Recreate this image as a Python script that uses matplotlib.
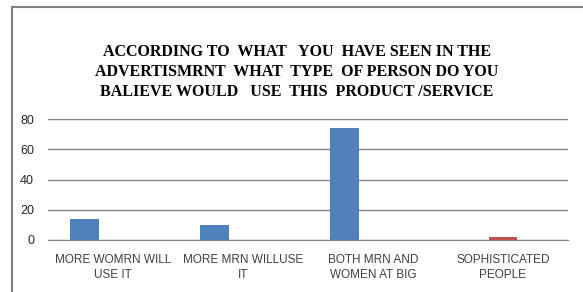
import numpy as np
import matplotlib.pyplot as plt
from matplotlib.patches import Rectangle

# categories and the three series (third one is all zero)
categories = ["MORE WOMRN WILL\nUSE IT", "MORE MRN WILLUSE\nIT",
              "BOTH MRN AND\nWOMEN AT BIG", "SOPHISTICATED\nPEOPLE"]
series1 = [14, 10, 74, 0]
series2 = [0, 0, 0, 2]
series3 = [0, 0, 0, 0]
yticks = [0, 20, 40, 60, 80]

title = ("ACCORDING TO  WHAT   YOU  HAVE SEEN IN THE\n"
         "ADVERTISMRNT  WHAT  TYPE  OF PERSON DO YOU\n"
         "BALIEVE WOULD   USE  THIS  PRODUCT /SERVICE")

fig = plt.figure(figsize=(5.83, 2.92), dpi=100)
fig.patches.append(Rectangle((12 / 583, -0.1), 1.1, 1.1 - 7 / 292, transform=fig.transFigure,
                             fill=False, edgecolor="#7f7f7f", linewidth=1.5))

ax = fig.add_axes([48 / 583, 1 - 240 / 292, 520 / 583, 121 / 292])
x = np.arange(len(categories))
w = 0.223
ax.bar(x - w, series1, w, color="#4F81BD")
ax.bar(x, series2, w, color="#C0504D")
ax.bar(x + w, series3, w, color="#9BBB59")

ax.set_xlim(-0.5, len(categories) - 0.5)
ax.set_ylim(0, 80)
ax.set_yticks(yticks)
ax.yaxis.grid(True, color="#868686", linewidth=1)
ax.set_axisbelow(True)
for s in ["left", "right", "top"]:
    ax.spines[s].set_visible(False)
ax.spines["bottom"].set_color("#868686")
ax.tick_params(length=0)
ax.tick_params(axis="y", pad=10, labelsize=9, labelcolor="#262626")
ax.set_xticks(x)
ax.set_xticklabels(categories, fontsize=8.5, color="#404040", linespacing=1.35)
ax.tick_params(axis="x", pad=10)
for t in ax.get_xticklabels() + ax.get_yticklabels():
    t.set_family("Liberation Sans")

fig.text(297 / 583, 1 - 72 / 292, title, ha="center", va="center",
         family="Liberation Serif", fontweight="bold", fontsize=11.5,
         linespacing=1.35)

fig.savefig("out.png", dpi=100)
